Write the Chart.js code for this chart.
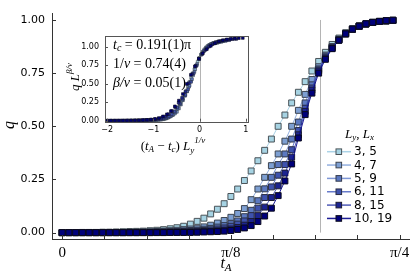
<!DOCTYPE html>
<html><head><meta charset="utf-8">
<script src="https://cdn.jsdelivr.net/npm/chart.js@4"></script>
<style>
html,body{margin:0;padding:0;background:#fff;}
#wrap{position:relative;width:415px;height:277px;overflow:hidden;}
#main{position:absolute;left:0;top:0;}
#inset{position:absolute;left:60px;top:25px;}
</style></head>
<body><div id="wrap"><canvas id="main" width="415" height="277"></canvas><canvas id="inset" width="200" height="130"></canvas></div>
<script>
const PI = Math.PI;
// x grid, in units of pi
const tOverPi = [0,0.005,0.01,0.015,0.02,0.025,0.03,0.035,0.04,0.045,0.05,0.055,0.06,0.065,0.07,0.075,0.08,0.085,0.09,0.095,0.1,0.105,0.11,0.115,0.12,0.125,0.13,0.135,0.14,0.145,0.15,0.155,0.16,0.165,0.17,0.175,0.18,0.185,0.19,0.195,0.2,0.205,0.21,0.215,0.22,0.225,0.23,0.235,0.24,0.245];
const sizeLabels = ['3, 5','4, 7','5, 9','6, 11','8, 15','10, 19'];
const Ly = [3,4,5,6,8,10];
const q35 = [0,0,0,0.001,0.001,0.001,0.002,0.002,0.003,0.004, 0.005,0.006,0.007,0.009,0.011,0.014,0.018,0.023,0.030,0.040, 0.053,0.068,0.088,0.110,0.136,0.170,0.205,0.245,0.290,0.338, 0.387,0.440,0.500,0.553,0.610,0.660,0.710,0.760,0.805,0.848, 0.885,0.915,0.940,0.958,0.972,0.982,0.989,0.993,0.996,0.998];
const q47 = [0,0,0,0,0,0,0,0.001,0.001,0.001, 0.002,0.002,0.003,0.004,0.005,0.007,0.009,0.011,0.014,0.017, 0.021,0.027,0.035,0.045,0.057,0.072,0.090,0.113,0.155,0.205, 0.260,0.315,0.370,0.430,0.500,0.575,0.650,0.720,0.780,0.835, 0.875,0.910,0.938,0.958,0.972,0.982,0.989,0.993,0.996,0.998];
const q59 = [0,0,0,0,0,0,0,0,0,0, 0.001,0.001,0.002,0.002,0.003,0.004,0.005,0.006,0.008,0.010, 0.012,0.016,0.020,0.026,0.033,0.042,0.055,0.075,0.105,0.150, 0.206,0.260,0.320,0.370,0.440,0.520,0.610,0.695,0.770,0.830, 0.873,0.908,0.936,0.957,0.971,0.981,0.988,0.993,0.996,0.998];
const q611 = [0,0,0,0,0,0,0,0,0,0, 0,0,0.001,0.001,0.002,0.002,0.003,0.004,0.005,0.006, 0.008,0.010,0.013,0.017,0.022,0.030,0.040,0.055,0.080,0.115, 0.165,0.215,0.270,0.320,0.390,0.480,0.585,0.680,0.765,0.825, 0.870,0.906,0.935,0.956,0.970,0.981,0.988,0.993,0.996,0.998];
const q815 = [0,0,0,0,0,0,0,0,0,0, 0,0,0,0,0.001,0.001,0.001,0.002,0.002,0.003, 0.004,0.005,0.007,0.009,0.012,0.017,0.024,0.035,0.052,0.080, 0.120,0.165,0.220,0.280,0.355,0.460,0.570,0.670,0.760,0.820, 0.867,0.905,0.934,0.956,0.970,0.981,0.988,0.993,0.996,0.998];
const q1019 = [0,0,0,0,0,0,0,0,0,0, 0,0,0,0,0,0,0.001,0.001,0.001,0.001, 0.002,0.003,0.004,0.005,0.007,0.010,0.015,0.022,0.033,0.052, 0.078,0.115,0.174,0.243,0.323,0.445,0.555,0.656,0.750,0.815, 0.865,0.905,0.935,0.957,0.971,0.982,0.989,0.994,0.997,0.999];
const series = [q35,q47,q59,q611,q815,q1019];
// fit results
const tcOverPi = 0.191, invNu = 0.74, betaNu = 0.05;
const xTicksOverPi = [0,1/32,2/32,3/32,4/32,5/32,6/32,7/32,8/32];
const yTicks = [0,0.25,0.5,0.75,1];
const insetXTicks = [-2,-1,0,1];

const fillColors = ['#a6d3e3','#7d9fd2','#5b78c0','#3e52ad','#1c2490','#00007a'];
const lineColors = ['rgba(150,200,225,0.8)','rgba(120,155,215,0.8)','rgba(95,125,205,0.8)','rgba(65,90,190,0.8)','rgba(35,50,165,0.8)','rgba(5,5,140,0.9)'];
const edgeColors = ['#4a5358','#3c4450','#323a4c','#282c44','#1c1c34','#0a0a1c'];

function drawRich(ctx, x, y, parts, align) {
  let w = 0;
  for (const p of parts) { ctx.font = p.f; w += ctx.measureText(p.t).width; }
  let cx = align === 'center' ? x - w/2 : (align === 'right' ? x - w : x);
  ctx.textBaseline = 'middle'; ctx.textAlign = 'left';
  for (const p of parts) { ctx.font = p.f; ctx.fillText(p.t, cx, y + (p.dy||0)); cx += ctx.measureText(p.t).width; }
}
const SI = s => 'italic ' + s + 'px "Liberation Serif"';
const SR = s => s + 'px "Liberation Serif"';

const bg = { id:'bg', beforeDraw(c){ const x=c.ctx; x.save(); x.fillStyle='#fff'; x.fillRect(0,0,c.width,c.height); x.restore(); } };

const mainDecor = {
  id:'mainDecor',
  beforeDatasetsDraw(c){
    const ctx=c.ctx, xs=c.scales.x, ys=c.scales.y;
    ctx.save();
    ctx.strokeStyle='#b4b4b4'; ctx.lineWidth=1;
    const px = Math.round(xs.getPixelForValue(tcOverPi*PI))+0.5;
    ctx.beginPath(); ctx.moveTo(px, ys.getPixelForValue(1)); ctx.lineTo(px, ys.getPixelForValue(0)); ctx.stroke();
    ctx.restore();
  },
  afterDraw(c){
    const ctx=c.ctx, xs=c.scales.x, ys=c.scales.y, a=c.chartArea;
    ctx.save();
    ctx.strokeStyle='#333'; ctx.lineWidth=1;
    for (const v of xTicksOverPi){ const p=Math.round(xs.getPixelForValue(v*PI))+0.5; ctx.beginPath(); ctx.moveTo(p,a.bottom); ctx.lineTo(p,a.bottom-4); ctx.stroke(); }
    for (const v of yTicks){ const p=Math.round(ys.getPixelForValue(v))+0.5; ctx.beginPath(); ctx.moveTo(a.left,p); ctx.lineTo(a.left+4,p); ctx.stroke(); }
    ctx.fillStyle='#000';
    drawRich(ctx, 226, 264, [{t:'t',f:SI(16)},{t:'A',f:SI(11),dy:4}], 'center');
    ctx.save(); ctx.translate(10,125); ctx.rotate(-PI/2); drawRich(ctx,0,0,[{t:'q',f:SI(16)}],'center'); ctx.restore();
    // legend
    drawRich(ctx, 345, 135, [{t:'L',f:SI(13)},{t:'y',f:SI(9),dy:3},{t:', ',f:SR(13)},{t:'L',f:SI(13)},{t:'x',f:SI(9),dy:3}], 'left');
    for (let k=0;k<sizeLabels.length;k++){
      const y = 151.7 + k*13.35;
      ctx.strokeStyle=lineColors[k]; ctx.lineWidth=1.5;
      ctx.beginPath(); ctx.moveTo(327,y); ctx.lineTo(351,y); ctx.stroke();
      ctx.fillStyle=fillColors[k]; ctx.strokeStyle=edgeColors[k]; ctx.lineWidth=1;
      ctx.fillRect(336,y-2.8,5.6,5.6); ctx.strokeRect(336,y-2.8,5.6,5.6);
      ctx.fillStyle='#000'; ctx.font='12px "DejaVu Sans"'; ctx.textAlign='left'; ctx.textBaseline='middle';
      ctx.fillText(sizeLabels[k], 354, y+0.5);
    }
    ctx.restore();
  }
};

new Chart(document.getElementById('main'), {
  type:'line',
  data:{ datasets: series.map((q,k)=>({
    label:sizeLabels[k],
    data: tOverPi.map((t,i)=>({x:t*PI, y:q[i]})),
    borderColor:lineColors[k], backgroundColor:fillColors[k],
    pointBackgroundColor:fillColors[k], pointBorderColor:edgeColors[k],
    pointStyle:'rect', pointRadius:4.2, pointBorderWidth:1, borderWidth:1,
    order: 5-k, tension:0
  }))},
  options:{
    responsive:false, animation:false, devicePixelRatio:1,
    layout:{padding:{top:8,right:5,left:0,bottom:0}},
    plugins:{legend:{display:false}, tooltip:{enabled:false}},
    scales:{
      x:{type:'linear', min:-0.0236, max:0.809,
        afterFit(s){ s.height=38; },
        afterBuildTicks(s){ s.ticks = xTicksOverPi.map(v=>({value:v*PI})); },
        grid:{display:false, drawTicks:false}, border:{color:'#333',width:1},
        ticks:{autoSkip:false, maxRotation:0, padding:5, color:'#000', font:{family:'Liberation Serif', size:15},
          callback(v){ const r=v/PI; if (Math.abs(r)<1e-6) return '0'; if (Math.abs(r-0.125)<1e-6) return 'π/8'; if (Math.abs(r-0.25)<1e-6) return 'π/4'; return ''; } } },
      y:{type:'linear', min:-0.03, max:1.03,
        afterFit(s){ s.width=52; },
        afterBuildTicks(s){ s.ticks = yTicks.map(v=>({value:v})); },
        grid:{display:false, drawTicks:false}, border:{color:'#333',width:1},
        ticks:{padding:7, color:'#000', font:{family:'DejaVu Sans', size:11}, callback:v=>v.toFixed(2)} }
    }
  },
  plugins:[bg, mainDecor]
});

// inset: scaling collapse built from the same data
const insetDatasets = series.map((q,k)=>({
  data: tOverPi.map((t,i)=>({x:(t-tcOverPi)*PI*Math.pow(Ly[k],invNu), y:q[i]*Math.pow(Ly[k],betaNu)})).filter(p=>p.x>=-2.045 && p.x<=1.045),
  showLine:false, pointStyle:'rect', pointRadius:1.9, pointBorderWidth:0.6,
  pointBackgroundColor:fillColors[k], pointBorderColor:edgeColors[k], order:5-k
}));

const insetDecor = {
  id:'insetDecor',
  beforeDatasetsDraw(c){
    const ctx=c.ctx, a=c.chartArea, xs=c.scales.x;
    ctx.save();
    ctx.fillStyle='#fff'; ctx.fillRect(a.left,a.top,a.right-a.left,a.bottom-a.top);
    ctx.strokeStyle='#b4b4b4'; ctx.lineWidth=1;
    const p=Math.round(xs.getPixelForValue(0))+0.5;
    ctx.beginPath(); ctx.moveTo(p,a.top); ctx.lineTo(p,a.bottom); ctx.stroke();
    ctx.restore();
  },
  afterDraw(c){
    const ctx=c.ctx, a=c.chartArea, xs=c.scales.x, ys=c.scales.y;
    ctx.save();
    ctx.strokeStyle='#555'; ctx.lineWidth=1;
    ctx.strokeRect(Math.round(a.left)+0.5, Math.round(a.top)+0.5, Math.round(a.right-a.left), Math.round(a.bottom-a.top));
    for (const v of insetXTicks){ const p=Math.round(xs.getPixelForValue(v))+0.5; ctx.beginPath(); ctx.moveTo(p,a.bottom); ctx.lineTo(p,a.bottom-3); ctx.stroke(); }
    for (const v of yTicks){ const p=Math.round(ys.getPixelForValue(v))+0.5; ctx.beginPath(); ctx.moveTo(a.left,p); ctx.lineTo(a.left+3,p); ctx.stroke(); }
    ctx.fillStyle='#000';
    drawRich(ctx, 53, 20, [{t:'t',f:SI(14)},{t:'c',f:SI(10),dy:3},{t:' = 0.191(1)π',f:SR(14)}], 'left');
    drawRich(ctx, 53, 39, [{t:'1/',f:SR(14)},{t:'ν',f:SI(14)},{t:' = 0.74(4)',f:SR(14)}], 'left');
    drawRich(ctx, 53, 58, [{t:'β/ν',f:SI(14)},{t:' = 0.05(1)',f:SR(14)}], 'left');
    drawRich(ctx, 113, 122, [{t:'(',f:SR(13)},{t:'t',f:SI(13)},{t:'A',f:SI(9),dy:3},{t:' − ',f:SR(13)},{t:'t',f:SI(13)},{t:'c',f:SI(9),dy:3},{t:') ',f:SR(13)},{t:'L',f:SI(13)},{t:'y',f:SI(9),dy:4},{t:'1/ν',f:SI(9),dy:-6}], 'center');
    ctx.save(); ctx.translate(16,52); ctx.rotate(-PI/2);
    drawRich(ctx,0,0,[{t:'q ',f:SI(13)},{t:'L',f:SI(13)},{t:'β/ν',f:SI(9),dy:-6}],'center');
    ctx.restore();
    ctx.restore();
  }
};

new Chart(document.getElementById('inset'), {
  type:'scatter',
  data:{datasets:insetDatasets},
  options:{
    responsive:false, animation:false, devicePixelRatio:1,
    layout:{padding:{top:6,right:12,left:0,bottom:0}},
    plugins:{legend:{display:false}, tooltip:{enabled:false}},
    scales:{
      x:{type:'linear', min:-2.045, max:1.045,
        afterFit(s){ s.height=33.3; },
        afterBuildTicks(s){ s.ticks = insetXTicks.map(v=>({value:v})); },
        grid:{display:false, drawTicks:false}, border:{display:false},
        ticks:{padding:3, color:'#000', font:{family:'DejaVu Sans', size:8}, callback:v=>v<0?'−'+Math.abs(v):String(v)} },
      y:{type:'linear', min:-0.013, max:1.151,
        afterFit(s){ s.width=45; },
        afterBuildTicks(s){ s.ticks = yTicks.map(v=>({value:v})); },
        grid:{display:false, drawTicks:false}, border:{display:false},
        ticks:{padding:6, color:'#000', font:{family:'DejaVu Sans', size:8}, callback:v=>v.toFixed(2)} }
    }
  },
  plugins:[insetDecor]
});
</script>
</body></html>
